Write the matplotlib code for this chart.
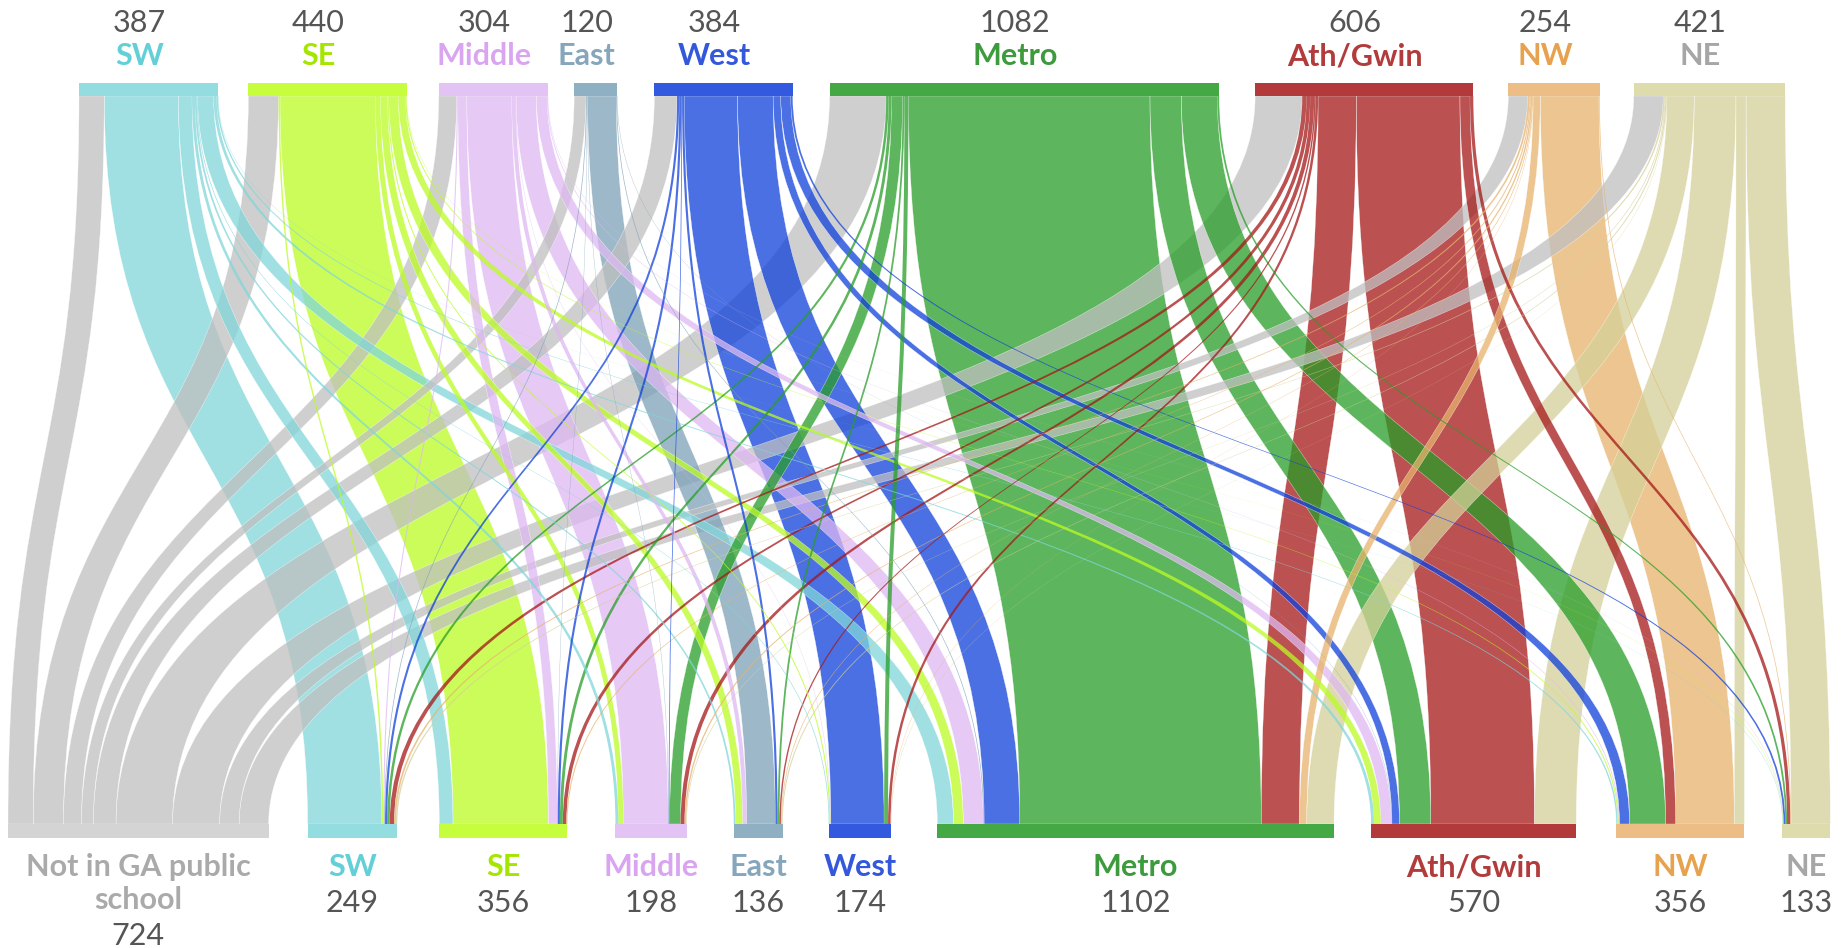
import numpy as np
import matplotlib
matplotlib.use("Agg")
import matplotlib.pyplot as plt
from matplotlib.path import Path
from matplotlib.patches import PathPatch, Rectangle
from matplotlib.colors import to_rgb

# regions (top = where students came from, bottom = where they went)
src_names = ["SW", "SE", "Middle", "East", "West", "Metro", "Ath/Gwin", "NW", "NE"]
dst_names = ["Not in GA public\nschool", "SW", "SE", "Middle", "East", "West",
             "Metro", "Ath/Gwin", "NW", "NE"]

# rows: source region, cols: destination (Not in GA first)
flows = np.array([
    [70, 206, 38, 8, 5, 2, 45, 8, 4, 1],
    [84, 4, 265, 14, 20, 3, 27, 19, 3, 1],
    [50, 3, 25, 125, 11, 1, 56, 30, 2, 1],
    [33, 2, 1, 1, 80, 0, 2, 1, 0, 0],
    [63, 6, 6, 2, 6, 148, 99, 21, 28, 5],
    [157, 7, 8, 31, 5, 11, 671, 87, 100, 5],
    [131, 12, 10, 11, 4, 7, 106, 288, 28, 9],
    [54, 5, 3, 4, 2, 1, 20, 0, 163, 2],
    [82, 4, 0, 2, 3, 1, 76, 116, 28, 109],
])

# colours per region, in src_names order
label_colors = ["#62d0d6", "#a4e600", "#d9a5f0", "#86a6bb", "#3358dc",
                "#3d9b3d", "#b23b3b", "#e6a24e", "#a6a6a6"]
bar_colors = ["#93dcdf", "#c6fe3e", "#e3c3f4", "#8fb0c3", "#3359df",
              "#44a844", "#b23a3a", "#ecbe86", "#dedbac"]
flow_colors = ["#a0e0e3", "#cdfd5a", "#e6caf5", "#9db9c9", "#4b70e3",
               "#5db65d", "#bb5151", "#eec590", "#dfdcb2"]
gone_color = "#cfcfcf"
gone_bar = "#d4d4d4"
gone_label = "#aaaaaa"
num_color = "#555555"

W, H = 1844, 948
px = 0.36                 # pixels per student
top_x0, bot_x0 = 79, 8
# spacing between neighbouring nodes, in pixels
top_gaps = [30, 32, 26, 37, 37, 36, 35, 34]
bot_gaps = [39, 42, 48, 47, 46, 46, 37, 40, 38]
top_bar = (83, 96)
bot_bar = (824, 838)
alpha = 0.75

def faded(c):
    # colour that gives c over white at the given alpha
    r = np.array(to_rgb(c))
    return tuple(np.clip((r - (1 - alpha)) / alpha, 0, 1))

src_tot = flows.sum(axis=1)
dst_tot = flows.sum(axis=0)

top_start = (top_x0 - bot_x0) / px + np.concatenate([[0], np.cumsum(src_tot)[:-1]]) \
    + np.concatenate([[0], np.cumsum(top_gaps)]) / px
bot_start = np.concatenate([[0], np.cumsum(dst_tot)[:-1]]) \
    + np.concatenate([[0], np.cumsum(bot_gaps)]) / px

fig = plt.figure(figsize=(W / 100, H / 100), dpi=100)
ax = fig.add_axes([0, 0, 1, 1])
ax.set_xlim(-bot_x0 / px, (W - bot_x0) / px)
ax.set_ylim(H, 0)
ax.axis("off")

# offsets of each flow inside its top and bottom node
top_off = np.cumsum(flows, axis=1) - flows
bot_off = np.cumsum(flows, axis=0) - flows

y0, y1 = top_bar[1], bot_bar[0]
ym = (y0 + y1) / 2
codes = [Path.MOVETO, Path.CURVE4, Path.CURVE4, Path.CURVE4, Path.LINETO,
         Path.CURVE4, Path.CURVE4, Path.CURVE4, Path.CLOSEPOLY]

order = sorted(((flows[i, j], i, j) for i in range(flows.shape[0])
                for j in range(flows.shape[1]) if flows[i, j] > 0), reverse=True)
for w, i, j in order:
    xa0 = top_start[i] + top_off[i, j]
    xb0 = bot_start[j] + bot_off[i, j]
    xa1, xb1 = xa0 + w, xb0 + w
    verts = [(xa0, y0), (xa0, ym), (xb0, ym), (xb0, y1), (xb1, y1),
             (xb1, ym), (xa1, ym), (xa1, y0), (xa0, y0)]
    col = gone_color if j == 0 else flow_colors[i]
    ax.add_patch(PathPatch(Path(verts, codes), facecolor=faded(col), alpha=alpha,
                           edgecolor="white", lw=0.3 if w >= 20 else 0))

font = "Lato"
fs = 22
top_shift = -9 / px   # top labels sit a little left of their bars

# top nodes
for i, name in enumerate(src_names):
    ax.add_patch(Rectangle((top_start[i], top_bar[0]), src_tot[i],
                           top_bar[1] - top_bar[0], color=bar_colors[i], lw=0))
    cx = top_start[i] + src_tot[i] / 2 + top_shift
    ax.text(cx, 23, str(src_tot[i]), ha="center", va="center",
            fontsize=fs, color=num_color, family=font)
    ax.text(cx, 56, name, ha="center", va="center", fontsize=fs,
            fontweight="bold", color=label_colors[i], family=font)

# bottom nodes
dst_bar = [gone_bar] + bar_colors
dst_lab = [gone_label] + label_colors
for j, name in enumerate(dst_names):
    ax.add_patch(Rectangle((bot_start[j], bot_bar[0]), dst_tot[j],
                           bot_bar[1] - bot_bar[0], color=dst_bar[j], lw=0))
    cx = bot_start[j] + dst_tot[j] / 2
    t = ax.text(cx, 853, name, ha="center", va="top", fontsize=fs,
                fontweight="bold", color=dst_lab[j], family=font, linespacing=1.2)
    ax.annotate(str(dst_tot[j]), xy=(0.5, 0), xycoords=t, xytext=(0, -6),
                textcoords="offset points", ha="center", va="top",
                fontsize=fs, color=num_color, family=font)

fig.savefig("out.png", dpi=100)
